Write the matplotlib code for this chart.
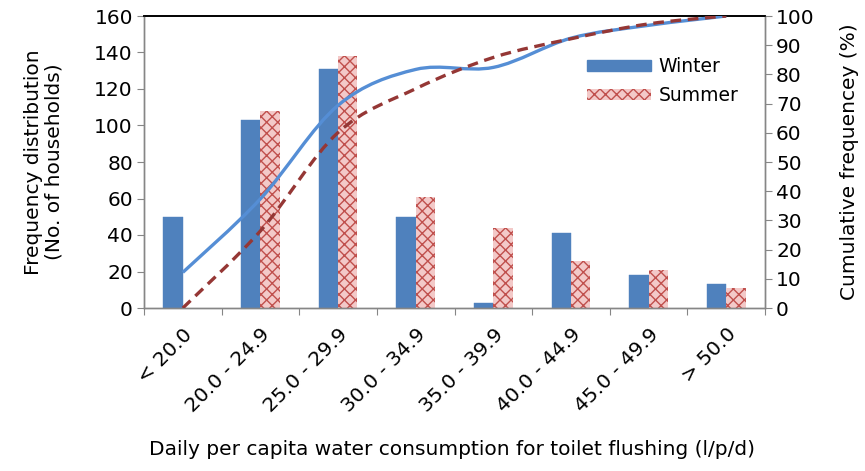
import numpy as np
import matplotlib
matplotlib.use("Agg")
import matplotlib.pyplot as plt
from matplotlib.path import Path
from matplotlib.patches import PathPatch, Patch

plt.rcParams['font.family'] = ['DejaVu Sans']
plt.rcParams['hatch.linewidth'] = 1.0

categories = ["< 20.0", "20.0 - 24.9", "25.0 - 29.9", "30.0 - 34.9",
              "35.0 - 39.9", "40.0 - 44.9", "45.0 - 49.9", "> 50.0"]
winter = [50, 103, 131, 50, 3, 41, 18, 13]
summer = [0, 108, 138, 61, 44, 26, 21, 11]
winter_cum = [12.2, 37.4, 69.4, 81.7, 82.4, 92.4, 96.8, 100.0]
summer_cum = [0.0, 26.4, 60.1, 75.1, 85.8, 92.2, 97.3, 100.0]

W, H = 865, 471
fig = plt.figure(figsize=(W / 100, H / 100), dpi=100)
ax = fig.add_axes([144 / W, 1 - 308 / H, (765 - 144) / W, (308 - 16) / H])
ax2 = ax.twinx()

x = np.arange(len(categories))
bw = 0.25
ax.bar(x - bw / 2, winter, bw, color='#4F81BD', edgecolor='#4F81BD', linewidth=0.3, zorder=2)
ax.bar(x + bw / 2, summer, bw, facecolor='#F3C9C8', edgecolor='#C0504D', hatch='xxx',
       linewidth=0, zorder=2)


def excel_smooth(xs, ys):
    xs = np.asarray(xs, float)
    ys = np.asarray(ys, float)
    P = np.column_stack([xs, ys])
    n = len(P)
    verts = [P[0]]
    codes = [Path.MOVETO]
    for i in range(n - 1):
        p0 = P[i - 1] if i > 0 else P[i]
        p1 = P[i]
        p2 = P[i + 1]
        p3 = P[i + 2] if i + 2 < n else P[i + 1]
        c1 = p1 + (p2 - p0) / 6.0
        c2 = p2 - (p3 - p1) / 6.0
        verts += [c1, c2, p2]
        codes += [Path.CURVE4] * 3
    return Path(verts, codes)


ax2.add_patch(PathPatch(excel_smooth(x, winter_cum), facecolor='none', edgecolor='#558ED5',
                        linewidth=2.4, capstyle='butt', zorder=3))
ax2.add_patch(PathPatch(excel_smooth(x, summer_cum), facecolor='none', edgecolor='#953735',
                        linewidth=2.4, linestyle=(0, (3.2, 2.0)), capstyle='butt', zorder=3))

ax.set_xlim(-0.5, len(categories) - 0.5)
ax.set_ylim(0, 160)
ax.set_yticks(np.arange(0, 161, 20))
ax2.set_ylim(0, 100)
ax2.set_yticks(np.arange(0, 101, 10))

fs = 14.5
ax.set_xticks(np.arange(-0.5, len(categories), 1.0))
ax.set_xticklabels([])
ax.set_xticks(x, minor=True)
ax.set_xticklabels(categories, minor=True, rotation=45, ha='right', va='top',
                   rotation_mode='anchor', fontsize=fs)
ax.tick_params(axis='x', which='minor', length=0, pad=12)
ax.tick_params(axis='x', which='major', length=5, color='#868686', direction='out')
ax.tick_params(axis='y', length=5, color='#868686', labelsize=fs, pad=3)
ax2.tick_params(axis='y', length=5, color='#868686', labelsize=fs, pad=3)

for a in (ax, ax2):
    for s in ('left', 'right', 'bottom'):
        a.spines[s].set_color('#868686')
        a.spines[s].set_linewidth(1.0)
    a.spines['top'].set_color('black')
    a.spines['top'].set_linewidth(1.2)

ax.set_ylabel("Frequency distribution\n(No. of households)", fontsize=fs, linespacing=1.1)
ax.yaxis.set_label_coords(-0.130, 0.5)
ax2.set_ylabel("Cumulative frequencey (%)", fontsize=fs)
ax2.yaxis.set_label_coords(1.121, 0.5)
ax.set_xlabel("Daily per capita water consumption for toilet flushing (l/p/d)", fontsize=fs)
ax.xaxis.set_label_coords(0.496, -0.452)

handles = [Patch(facecolor='#4F81BD', edgecolor='#4F81BD'),
           Patch(facecolor='#F3C9C8', edgecolor='#C0504D', hatch='xxx', linewidth=0)]
ax2.legend(handles, ["Winter", "Summer"], loc='upper left', bbox_to_anchor=(0.702, 0.885),
           frameon=False, fontsize=13.5, handlelength=3.4, handleheight=0.5,
           labelspacing=0.55, handletextpad=0.4, borderaxespad=0)

fig.savefig("out.png", dpi=100)
